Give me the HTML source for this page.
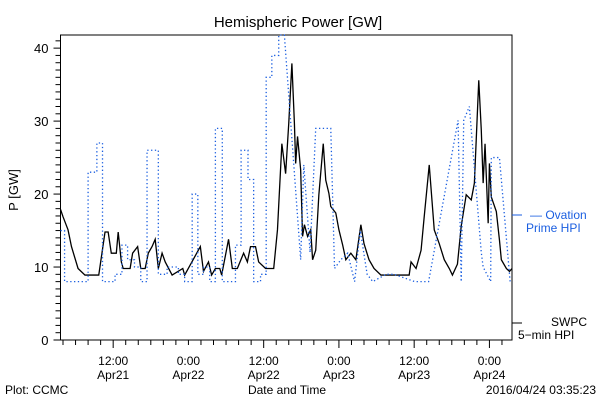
<!DOCTYPE html>
<html><head><meta charset="utf-8"><style>
body{margin:0;background:#fff;}
svg{display:block;font-family:"Liberation Sans",sans-serif;}
</style></head><body>
<svg id="c" width="600" height="400" viewBox="0 0 600 400">
<rect width="600" height="400" fill="#fff"/>
<text x="298" y="27" text-anchor="middle" font-size="15">Hemispheric Power [GW]</text>
<text transform="translate(18,190) rotate(-90)" text-anchor="middle" font-size="13">P [GW]</text>
<text x="287" y="394" text-anchor="middle" font-size="12">Date and Time</text>
<text x="5" y="394" font-size="12">Plot: CCMC</text>
<text x="596" y="394" text-anchor="end" font-size="12">2016/04/24 03:35:23</text>
<g id="axes"></g>
<g id="series"></g>
<g>
<line x1="512" y1="215" x2="522" y2="215" stroke="#1a5ee0"/>
<text x="530" y="219" font-size="12" fill="#1a5ee0">— Ovation</text>
<text x="526" y="232" font-size="12" fill="#1a5ee0">Prime HPI</text>
<line x1="512" y1="323" x2="522" y2="323" stroke="#000"/>
<text x="551" y="326" font-size="12">SWPC</text>
<text x="518" y="339" font-size="12">5−min HPI</text>
</g>
</svg>
<script>
const swpcHours=[0,0.4,1.2,1.75,2.8,3.9,6.1,7.1,7.6,8.1,8.9,9.2,9.7,10,11.1,11.5,12.3,12.8,13.5,14,14.6,15.1,15.6,16.2,16.7,17.8,19.5,19.8,22.3,22.8,23.6,24.1,24.7,25.4,25.7,26.8,27.4,28.2,29.2,29.8,30.3,31.1,31.6,32.7,34,34.6,35.3,35.9,36.4,36.9,37.3,37.5,37.8,38.3,38.6,38.9,39.4,39.9,40.2,40.7,41.2,41.9,42.3,42.8,43.1,43.9,44.4,45,45.5,46.3,47.1,47.9,48.4,49.2,50,51.1,55.6,55.9,56.7,57.5,58,58.8,59.6,60.4,61.2,62,62.5,63.3,63.9,64.7,65.5,66,66.7,67.1,67.4,67.7,68.2,68.4,68.7,69.5,70,70.3,71.1,71.6,72];
const swpcValues=[17.9,16.9,15.1,12.8,9.8,8.9,8.9,14.8,14.8,11.9,11.9,14.8,10.7,9.8,9.8,11.9,12.8,9.8,9.8,11.9,12.8,13.8,9.8,11.9,10.7,8.9,9.8,8.9,12.8,9.4,10.7,8.9,9.8,9.8,8.9,13.8,9.8,9.8,11.9,10.7,12.8,12.8,10.7,9.8,9.8,15.1,26.9,22.8,29.7,37.9,29.7,24.2,27.9,23.3,14.2,15.8,14.2,15.1,11,12.3,19.9,26.9,21.9,20.1,18.3,17.4,15.1,13,11,11.9,11,15.8,13.2,11,9.8,8.9,8.9,10.7,9.8,12.3,16.9,24,15.1,13.2,11,9.8,8.9,10.4,15.6,19.9,19.2,21.5,35.6,28.8,21.5,26.9,16,24.2,19.6,17.6,13.7,11,9.8,9.4,9.8];
const ovHours=[0,0.65,0.65,4.4,4.4,5.8,5.8,6.7,6.7,8.7,8.7,9.8,9.8,10.7,10.7,11.8,11.8,12.8,12.8,13.8,13.8,15.6,15.6,17,17,18.8,18.8,19.8,19.8,21,21,21.9,21.9,22.8,22.8,23.8,23.8,24.7,24.7,25.8,25.8,27.9,27.9,28.8,28.8,29.9,29.9,30.8,30.8,31.9,31.9,32.8,32.8,33.7,33.7,34.8,34.8,35.7,38.3,38.8,38.8,39.8,40.7,43.1,43.7,44.7,45.8,46.9,46.9,47.8,47.8,48.9,48.9,49.8,49.8,51.9,53.2,56.5,58.7,63.4,63.9,64.3,65.2,67.1,67.4,68.6,68.7,70,71.6,71.7];
const ovValues=[15,15,8,8,23,23,27,27,8,8,9,9,13,13,11,11,10,10,8,8,26,26,9,9,10,10,9,9,8,8,20,20,9,9,10,10,8,8,29,29,8,8,13,13,26,26,22,22,8,8,9,9,36,36,39,39,41.8,41.8,11,24,24,12,29,29,9.8,11,11.9,8,8,15,15,9,9,8,8,9,9,8,8,30.1,8,30.1,32,12,10,8,25,25,9,8,8,29];
const yTicks=[0,10,20,30,40];
const xTickHours=[8.4,20.4,32.4,44.4,56.4,68.4];
const xTickLabels=[["12:00","Apr21"],["0:00","Apr22"],["12:00","Apr22"],["0:00","Apr23"],["12:00","Apr23"],["0:00","Apr24"]];
const L=60.5,R=512,T=35,B=340,HMAX=72,YMAX=41.8;
const X=h=>L+h/HMAX*(R-L), Y=v=>B-v/YMAX*(B-T);
const NS="http://www.w3.org/2000/svg";
const ax=document.getElementById('axes'), se=document.getElementById('series');
function mk(tag,attrs,parent){const e=document.createElementNS(NS,tag);for(const k in attrs)e.setAttribute(k,attrs[k]);parent.appendChild(e);return e;}
const frame=mk('rect',{x:L,y:T,width:R-L,height:B-T,fill:'none',stroke:'#000','stroke-width':1},ax);


for(let v=0;v<=YMAX;v+=1){const t=mk('line',{x1:L-(v%10===0?7:5),x2:L,y1:Y(v),y2:Y(v),stroke:'#000'},ax);

}
yTicks.forEach(v=>{const t=mk('text',{x:L-12,y:Y(v)+5,'text-anchor':'end','font-size':13},ax);t.textContent=v;

});
for(let h=0.4;h<=HMAX;h+=2){const t=mk('line',{x1:X(h),x2:X(h),y1:B,y2:B+(Math.abs((h-8.4)%12)<0.01?8:5),stroke:'#000'},ax);

}
xTickHours.forEach((h,i)=>{xTickLabels[i].forEach((s,j)=>{const t=mk('text',{x:X(h),y:365+j*14,'text-anchor':'middle','font-size':12},ax);t.textContent=s;

});});
const pts1=swpcHours.map((h,i)=>X(h)+','+Y(swpcValues[i])).join(' ');
const p1=mk('polyline',{points:pts1,fill:'none',stroke:'#000','stroke-width':1.3,'stroke-linejoin':'miter'},se);


const pts=ovHours.map((h,i)=>X(h)+','+Y(ovValues[i])).join(' ');
const p2=mk('polyline',{points:pts,fill:'none',stroke:'#1a5ee0','stroke-width':1.3,'stroke-dasharray':'1.3 2.5'},se);


</script>
</body></html>
